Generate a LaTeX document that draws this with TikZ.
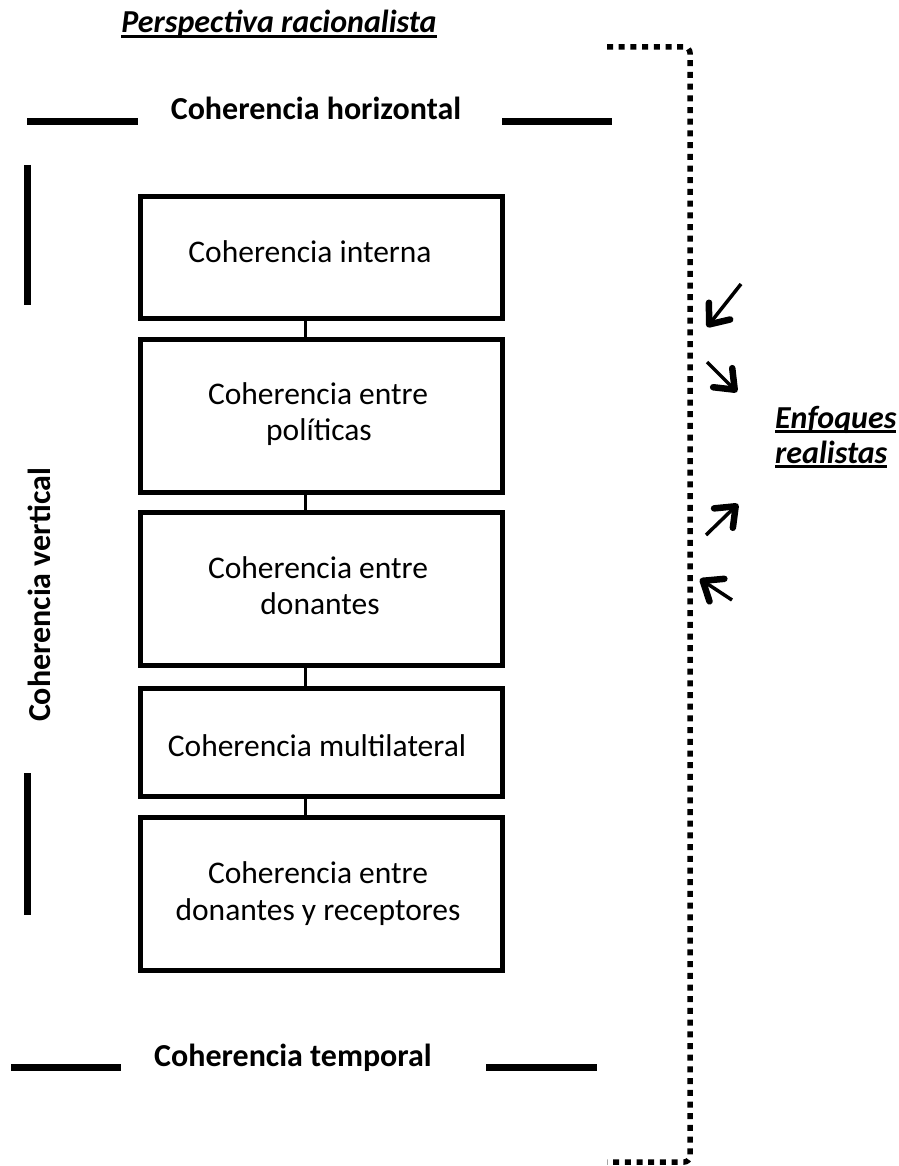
\documentclass[tikz,border=0pt]{standalone}
\usepackage{fontspec}
\setmainfont{Carlito}
\usetikzlibrary{arrows.meta}
\newcommand\myul[1]{\setbox0\hbox{#1}\rlap{\rule[-5pt]{\wd0}{2.8pt}}\box0}
\tikzset{
  cbox/.style={draw, line width=5pt, inner sep=0pt, minimum width=362pt},
  btxt/.style={font=\fontsize{31.5}{36}\selectfont, inner sep=0pt, anchor=base},
  htxt/.style={font=\fontsize{32}{36}\selectfont\bfseries, inner sep=0pt, anchor=base},
  itxt/.style={font=\fontsize{32}{36}\selectfont\bfseries\itshape, inner sep=0pt},
  bar/.style={line width=7pt},
  conn/.style={line width=3pt},
  dotbr/.style={line width=5.5pt, dash pattern=on 6pt off 5.7pt, rounded corners=6pt},
  rarrow/.style={line width=3.5pt, -{Straight Barb[length=17pt, width=27pt, line width=6.5pt, round]}}
}
\begin{document}
\begin{tikzpicture}[x=1pt, y=-1pt]
\useasboundingbox (0,0) rectangle (898,1166);
% boxes
\node[cbox, minimum height=121pt] (b1) at (321.5,257.5) {};
\node[cbox, minimum height=153pt] (b2) at (321.5,415.5) {};
\node[cbox, minimum height=153pt] (b3) at (321.5,588.5) {};
\node[cbox, minimum height=108pt] (b4) at (321.5,742) {};
\node[cbox, minimum height=153pt] (b5) at (321.5,893.5) {};
% connectors
\coordinate (cx) at (305,0);
\draw[conn] (b1.south -| cx) -- (b2.north -| cx);
\draw[conn] (b2.south -| cx) -- (b3.north -| cx);
\draw[conn] (b3.south -| cx) -- (b4.north -| cx);
\draw[conn] (b4.south -| cx) -- (b5.north -| cx);
% box texts
\node[btxt] (t1) at (310,262) {Coherencia interna};
\node[btxt] (t2a) at (318,404) {Coherencia entre};
\node[btxt] (t2b) at (319,440) {políticas};
\node[btxt] (t3a) at (318,578) {Coherencia entre};
\node[btxt] (t3b) at (320,614) {donantes};
\node[btxt] (t4) at (317,756) {Coherencia multilateral};
\node[btxt] (t5a) at (318,883) {Coherencia entre};
\node[btxt] (t5b) at (318,920) {donantes y receptores};
% headings
\node[itxt, anchor=base] (pr) at (279,33) {\myul{Perspectiva racionalista}};
\node[htxt] (hz) at (316,120) {Coherencia horizontal};
\node[htxt] (tp) at (293,1066) {Coherencia temporal};
\node[htxt, rotate=90] (vt) at (50,595) {Coherencia vertical};
\node[itxt, anchor=base west] (ef1) at (775,428) {\myul{Enfoques}};
\node[itxt, anchor=base west] (ef2) at (775,463) {\myul{realistas}};
% bars
\draw[bar] (27,122) -- (138,122);
\draw[bar] (502,122) -- (612,122);
\draw[bar] (27,165) -- (27,305);
\draw[bar] (27,773) -- (27,915);
\draw[bar] (11,1067) -- (121,1067);
\draw[bar] (486,1067) -- (597,1067);
% dotted bracket
\coordinate (d1) at (607,47);
\coordinate (d2) at (690,47);
\coordinate (d3) at (690,1162);
\coordinate (d4) at (607,1162);
\draw[dotbr] (d1) -- (d2) -- (d3) -- (d4);
% arrows
\coordinate (a1s) at (741,284); \coordinate (a1e) at (707,327);
\coordinate (a2s) at (707,362); \coordinate (a2e) at (737,392);
\coordinate (a3s) at (706,535); \coordinate (a3e) at (738,504);
\coordinate (a4s) at (732,600); \coordinate (a4e) at (700,579);
\draw[rarrow] (a1s) -- (a1e);
\draw[rarrow] (a2s) -- (a2e);
\draw[rarrow] (a3s) -- (a3e);
\draw[rarrow] (a4s) -- (a4e);
\end{tikzpicture}
\end{document}
